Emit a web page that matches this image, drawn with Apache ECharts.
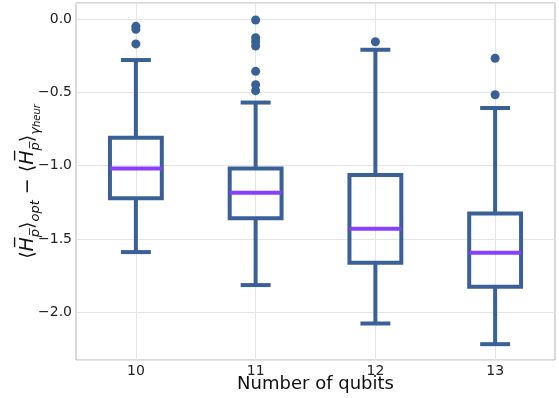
<!DOCTYPE html>
<html>
<head>
<meta charset="utf-8">
<script src="https://cdn.jsdelivr.net/npm/echarts@6/dist/echarts.min.js"></script>
<style>
  html, body { margin: 0; padding: 0; background: #fff; }
  #chart { width: 559px; height: 398px; }
</style>
</head>
<body>
<div id="chart"></div>
<script>
// box statistics per qubit count
const categories = ['10', '11', '12', '13'];
const mins    = [-1.59, -1.815, -2.077, -2.218];
const q1s     = [-1.222, -1.36, -1.663, -1.827];
const medians = [-1.02, -1.185, -1.43, -1.595];
const q3s     = [-0.81, -1.02, -1.065, -1.326];
const maxs    = [-0.28, -0.57, -0.21, -0.607];

// fliers: [category index, value]
const outliers = [
  [0, -0.05], [0, -0.07], [0, -0.17],
  [1, -0.007], [1, -0.128], [1, -0.155], [1, -0.184], [1, -0.357], [1, -0.448], [1, -0.489],
  [2, -0.155],
  [3, -0.268], [3, -0.517]
];

const yMin = -2.326;
const yMax = 0.109;

const BLUE = '#3a6197';
const PURPLE = '#8a3ffb';
const GRID = '#e5e5e5';

const fmt = v => (v < 0 ? '\u2212' : '') + Math.abs(v).toFixed(1);

const boxData = categories.map((c, i) => [i, mins[i], q1s[i], medians[i], q3s[i], maxs[i]]);

function renderBox(params, api) {
  const i = api.value(0);
  const pMin = api.coord([i, api.value(1)]);
  const pQ1 = api.coord([i, api.value(2)]);
  const pMed = api.coord([i, api.value(3)]);
  const pQ3 = api.coord([i, api.value(4)]);
  const pMax = api.coord([i, api.value(5)]);
  const band = api.size([1, 0])[0];
  const cx = pMed[0];
  const bw = band * 0.433;
  const cw = band * 0.25;
  const line = { stroke: BLUE, lineWidth: 4, fill: null };
  return {
    type: 'group',
    children: [
      { type: 'line', shape: { x1: cx, y1: pMax[1], x2: cx, y2: pQ3[1] }, style: line },
      { type: 'line', shape: { x1: cx, y1: pQ1[1], x2: cx, y2: pMin[1] }, style: line },
      { type: 'line', shape: { x1: cx - cw / 2, y1: pMax[1], x2: cx + cw / 2, y2: pMax[1] }, style: line },
      { type: 'line', shape: { x1: cx - cw / 2, y1: pMin[1], x2: cx + cw / 2, y2: pMin[1] }, style: line },
      { type: 'rect', shape: { x: cx - bw / 2, y: pQ3[1], width: bw, height: pQ1[1] - pQ3[1] },
        style: { stroke: BLUE, lineWidth: 4, fill: 'none', lineJoin: 'miter' } },
      { type: 'line', shape: { x1: cx - bw / 2, y1: pMed[1], x2: cx + bw / 2, y2: pMed[1] },
        style: { stroke: PURPLE, lineWidth: 4 } }
    ]
  };
}

const chart = echarts.init(document.getElementById('chart'));

const option = {
  animation: false,
  backgroundColor: '#fff',
  grid: {
    left: 76, right: 4, top: 3, bottom: 38,
    outerBoundsMode: 'none',
    containLabel: false,
    show: true, borderColor: '#b3b3b3', borderWidth: 1, backgroundColor: 'transparent'
  },
  xAxis: {
    type: 'category',
    data: categories,
    boundaryGap: true,
    name: 'Number of qubits',
    nameLocation: 'middle',
    nameGap: 15,
    nameMoveOverlap: false,
    nameTextStyle: { fontFamily: 'DejaVu Sans', fontSize: 18, color: '#111' },
    axisLine: { show: false },
    axisTick: { show: false },
    axisLabel: { fontFamily: 'DejaVu Sans', fontSize: 14, color: '#222', margin: 4 },
    splitLine: { show: false }
  },
  yAxis: {
    type: 'value',
    min: yMin,
    max: yMax,
    name: '{n|\u27e8}{i|H\u0305}{s|p\u0305}{n|\u27e9}{s|opt}{n| \u2212 \u27e8}{i|H\u0305}{s|p\u0305}{n|\u27e9}{s|\u03b3}{ss|heur}',
    nameLocation: 'middle',
    nameRotate: 90,
    nameGap: 34,
    nameMoveOverlap: false,
    nameTextStyle: {
      fontFamily: 'DejaVu Sans',
      color: '#111',
      rich: {
        n: { fontFamily: 'DejaVu Sans', fontSize: 19, lineHeight: 28, color: '#111' },
        i: { fontFamily: 'DejaVu Sans', fontStyle: 'italic', fontSize: 19, lineHeight: 28, color: '#111' },
        s: { fontFamily: 'DejaVu Sans', fontStyle: 'italic', fontSize: 13, lineHeight: 16, verticalAlign: 'bottom', color: '#111' },
        ss: { fontFamily: 'DejaVu Sans', fontStyle: 'italic', fontSize: 10, lineHeight: 11, verticalAlign: 'bottom', color: '#111' }
      }
    },
    axisLine: { show: false },
    axisTick: { show: false },
    axisLabel: {
      fontFamily: 'DejaVu Sans', fontSize: 14, color: '#222', margin: 4,
      showMinLabel: false, showMaxLabel: false,
      formatter: fmt
    },
    splitLine: { show: true, lineStyle: { color: GRID, width: 1 } }
  },
  series: [
    {
      // vertical grid lines at category centres
      type: 'scatter',
      data: [],
      z: 1,
      markLine: {
        silent: true,
        z: 1,
        symbol: 'none',
        label: { show: false },
        lineStyle: { color: GRID, width: 1, type: 'solid' },
        data: categories.map(c => ({ xAxis: c }))
      }
    },
    {
      type: 'custom',
      data: boxData,
      renderItem: renderBox,
      encode: { x: 0, y: [1, 2, 3, 4, 5] },
      z: 3
    },
    {
      type: 'scatter',
      data: outliers,
      symbol: 'circle',
      symbolSize: 9,
      itemStyle: { color: BLUE, opacity: 1 },
      z: 4
    }
  ]
};

chart.setOption(option);
</script>
</body>
</html>
